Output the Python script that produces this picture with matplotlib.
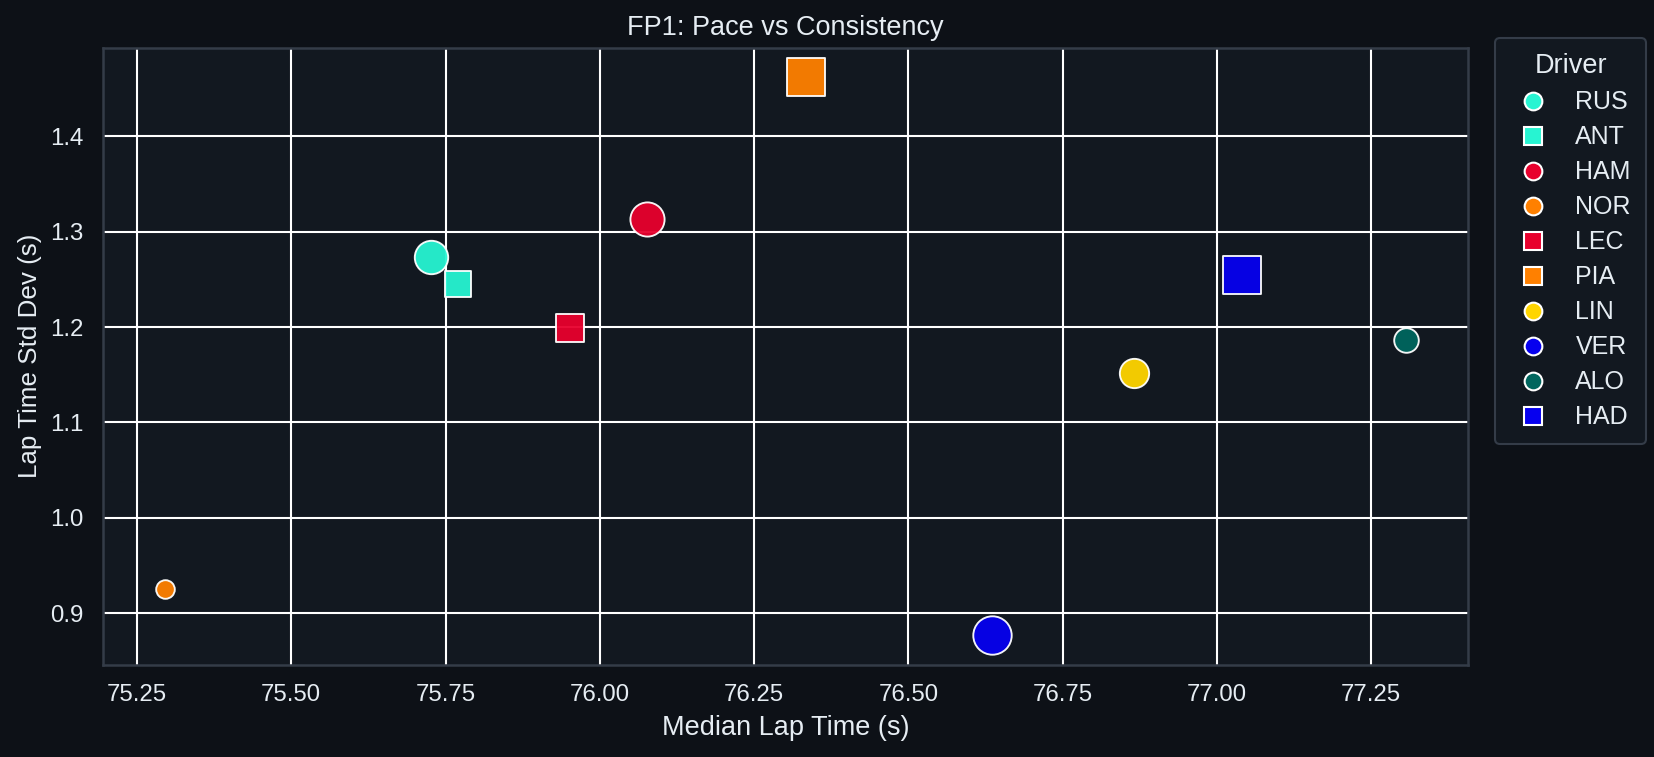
import numpy as np
import matplotlib
matplotlib.use("Agg")
import matplotlib.pyplot as plt
from matplotlib.lines import Line2D
import seaborn as sns

drivers = ["RUS", "ANT", "HAM", "NOR", "LEC", "PIA", "LIN", "VER", "ALO", "HAD"]
median_lap = [75.727, 75.770, 76.076, 75.296, 75.951, 76.334, 76.865, 76.635, 77.306, 77.041]
std_lap = [1.274, 1.245, 1.313, 0.925, 1.199, 1.462, 1.152, 0.877, 1.186, 1.255]
laps = [23, 14, 24, 8, 17, 29, 18, 30, 13, 30]
markers = ["o", "s", "o", "o", "s", "s", "o", "o", "o", "s"]
colors = ["#27F4D2", "#27F4D2", "#E8002D", "#FF8000", "#E8002D", "#FF8000",
          "#FFD500", "#0600EF", "#00665E", "#0600EF"]

BG = "#0d1117"
AX = "#121820"
EDGE = "#343c48"
TXT = "#e6edf3"

sns.set_theme(context="notebook", style="darkgrid", rc={
    "figure.facecolor": BG, "axes.facecolor": AX, "axes.edgecolor": EDGE,
    "grid.color": "white", "text.color": TXT, "axes.labelcolor": TXT,
    "xtick.color": TXT, "ytick.color": TXT, "axes.linewidth": 1.2,
})
plt.rcParams["font.family"] = ["Liberation Sans", "DejaVu Sans"]

fig = plt.figure(figsize=(1654 / 150, 757 / 150), dpi=150)
ax = fig.add_axes([0.0623, 0.122, 0.8253, 0.815])

sizes = np.interp(laps, [min(laps), max(laps)], [80, 340])
for d, x, y, s, m, c in zip(drivers, median_lap, std_lap, sizes, markers, colors):
    ax.scatter(x, y, s=s, marker=m, color=c, edgecolors="white", linewidths=0.9,
               alpha=0.95, zorder=3)

ax.set_xlim(75.195, 77.407)
ax.set_ylim(0.846, 1.493)
ax.set_xticks([75.25, 75.5, 75.75, 76.0, 76.25, 76.5, 76.75, 77.0, 77.25])
ax.set_yticks([0.9, 1.0, 1.1, 1.2, 1.3, 1.4])
ax.xaxis.set_major_formatter(matplotlib.ticker.FormatStrFormatter("%.2f"))
ax.yaxis.set_major_formatter(matplotlib.ticker.FormatStrFormatter("%.1f"))
ax.tick_params(labelsize=11.5)
ax.set_xlabel("Median Lap Time (s)", fontsize=13)
ax.set_ylabel("Lap Time Std Dev (s)", fontsize=12.5)
ax.set_title("FP1: Pace vs Consistency", color=TXT, fontsize=13)
for sp in ax.spines.values():
    sp.set_visible(True)
    sp.set_color(EDGE)

handles = [Line2D([], [], linestyle="none", marker=m, markersize=8.5,
                  markerfacecolor=c, markeredgecolor="white", markeredgewidth=1.0)
           for m, c in zip(markers, colors)]
leg = ax.legend(handles, drivers, title="Driver", loc="upper left",
                bbox_to_anchor=(1.02, 1.015), borderaxespad=0, fontsize=12,
                title_fontsize=13, facecolor=AX, edgecolor=EDGE, framealpha=1,
                labelspacing=0.44, borderpad=0.6, handlelength=1.8)
for t in leg.get_texts():
    t.set_color(TXT)
leg.get_title().set_color(TXT)

fig.savefig("out.png", dpi=150, facecolor=BG)
